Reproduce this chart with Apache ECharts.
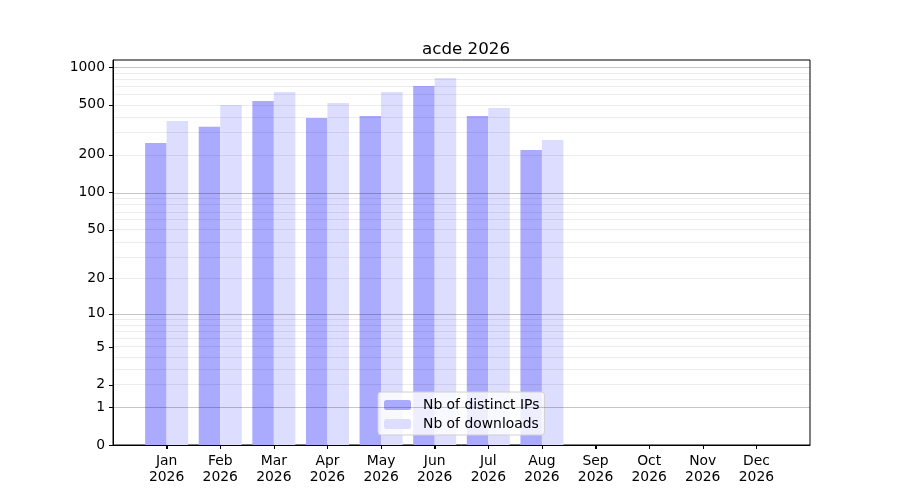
<!DOCTYPE html>
<html>
<head>
<meta charset="utf-8">
<script src="https://cdn.jsdelivr.net/npm/echarts@6/dist/echarts.min.js"></script>
<style>
  html, body { margin: 0; padding: 0; background: #fff; }
  #main { width: 900px; height: 500px; }
</style>
</head>
<body>
<div id="main"></div>
<script type="text/javascript">
    var months = ['Jan', 'Feb', 'Mar', 'Apr', 'May', 'Jun', 'Jul', 'Aug', 'Sep', 'Oct', 'Nov', 'Dec'];
    var year = '2026';
    var distinctIPs = [248, 334, 537, 393, 408, 706, 408, 218];
    var downloads = [372, 499, 633, 518, 633, 817, 472, 262];
    var yTicks = [0, 1, 2, 5, 10, 20, 50, 100, 200, 500, 1000];
    var majorGrid = [1, 10, 100, 1000];
    var minorGrid = [2, 3, 4, 5, 6, 7, 8, 9, 20, 30, 40, 50, 60, 70, 80, 90, 200, 300, 400, 500, 600, 700, 800, 900];

    // axis is log10(v + 1), like the reference
    function fwd(v) { return Math.log10(v + 1); }
    function inv(y) { return Math.round(Math.pow(10, y) - 1); }

    // empty slot at each end gives the same margins as the reference
    var xCats = [''].concat(months.map(function (m) { return m + '\n' + year; })).concat(['']);

    var font = 'DejaVu Sans';
    var myChart = echarts.init(document.getElementById('main'));

    var gridLines = [];
    majorGrid.forEach(function (v) {
        gridLines.push({ yAxis: fwd(v), lineStyle: { color: 'rgba(0,0,0,0.22)', width: 1, type: 'solid' } });
    });
    minorGrid.forEach(function (v) {
        gridLines.push({ yAxis: fwd(v), lineStyle: { color: 'rgba(0,0,0,0.075)', width: 1, type: 'solid' } });
    });

    var option = {
        animation: false,
        textStyle: { fontFamily: font },
        title: {
            text: 'acde ' + year,
            left: 461,
            top: 36,
            textAlign: 'center',
            textStyle: { fontFamily: font, fontSize: 16.7, fontWeight: 'normal', color: '#000' }
        },
        legend: {
            data: ['Nb of distinct IPs', 'Nb of downloads'],
            orient: 'vertical',
            left: 378,
            top: 392,
            padding: [6, 5, 4, 6],
            itemWidth: 27,
            itemHeight: 10,
            itemGap: 5,
            backgroundColor: 'rgba(255,255,255,0.8)',
            borderColor: '#d0d0d0',
            borderWidth: 1,
            borderRadius: 3,
            textStyle: { fontFamily: font, fontSize: 13.9, color: '#000', padding: [0, 0, 0, 7] }
        },
        grid: {
            left: 113, right: 90, top: 60, bottom: 55,
            show: true, borderColor: '#000', borderWidth: 1, backgroundColor: 'transparent'
        },
        xAxis: {
            type: 'category',
            data: xCats,
            boundaryGap: false,
            axisLine: { show: true, onZero: false, lineStyle: { color: '#000', width: 1 } },
            axisTick: {
                show: true, length: 4, lineStyle: { color: '#000', width: 1 },
                interval: function (idx, val) { return val !== ''; }
            },
            splitLine: { show: false },
            axisLabel: {
                interval: 0,
                fontFamily: font, fontSize: 13.9, color: '#000', lineHeight: 16, margin: 8
            }
        },
        yAxis: {
            type: 'value',
            min: 0,
            max: 3.0556,
            axisLine: { show: true, onZero: false, lineStyle: { color: '#000' } },
            axisTick: { show: true, length: 4, customValues: yTicks.map(fwd), lineStyle: { color: '#000' } },
            splitLine: { show: false },
            axisLabel: {
                customValues: yTicks.map(fwd),
                formatter: function (v) { return String(inv(v)); },
                fontFamily: font, fontSize: 13.9, color: '#000', margin: 8
            }
        },
        series: [
            {
                name: 'Nb of distinct IPs',
                type: 'bar',
                barWidth: 21.5,
                barGap: '0%',
                itemStyle: { color: '#aaaaff' },
                data: distinctIPs.map(function (v, i) { return [i + 1, fwd(v)]; })
            },
            {
                name: 'Nb of downloads',
                type: 'bar',
                barWidth: 21.5,
                barGap: '0%',
                itemStyle: { color: '#ddddff' },
                data: downloads.map(function (v, i) { return [i + 1, fwd(v)]; })
            },
            {
                name: 'grid',
                type: 'line',
                data: [],
                z: 5,
                silent: true,
                markLine: {
                    silent: true,
                    symbol: 'none',
                    label: { show: false },
                    emphasis: { disabled: true },
                    data: gridLines
                }
            }
        ]
    };
    myChart.setOption(option);

    // month tick marks below the x axis, placed with the chart's own scales,
    // on their own layer so nothing can cover them
    var y0 = myChart.convertToPixel({ yAxisIndex: 0 }, 0);
    var tickShapes = [];
    months.forEach(function (m, i) {
        var x = myChart.convertToPixel({ xAxisIndex: 0 }, i + 1);
        if (typeof x !== 'number' || isNaN(x) || isNaN(y0)) { return; }
        x = Math.round(x) + 0.5;
        tickShapes.push({
            type: 'line',
            silent: true,
            shape: { x1: x, y1: y0, x2: x, y2: y0 + 4 },
            style: { stroke: '#000', lineWidth: 1 }
        });
    });
    myChart.setOption({ graphic: { elements: [{ type: 'group', zlevel: 1, z: 100, children: tickShapes }] } });
</script>
</body>
</html>
